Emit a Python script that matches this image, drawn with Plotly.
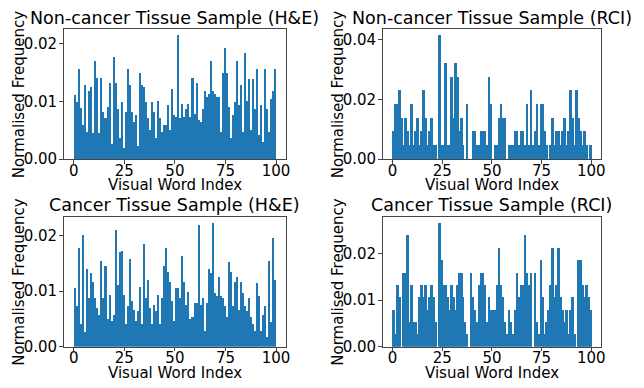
import plotly.graph_objects as go

# Visual word indices (histogram bins 0..99, each of width 1)
word_index = list(range(100))

noncancer_he = [
    0.0110, 0.0098, 0.0155, 0.0088, 0.0059, 0.0127, 0.0047, 0.0118, 0.0124, 0.0045,
    0.0170, 0.0140, 0.0045, 0.0140, 0.0081, 0.0070, 0.0090, 0.0132, 0.0025, 0.0177,
    0.0132, 0.0087, 0.0036, 0.0098, 0.0019, 0.0081, 0.0155, 0.0127, 0.0081, 0.0064,
    0.0076, 0.0022, 0.0149, 0.0127, 0.0124, 0.0098, 0.0070, 0.0050, 0.0098, 0.0081,
    0.0036, 0.0100, 0.0070, 0.0047, 0.0059, 0.0059, 0.0093, 0.0050, 0.0121, 0.0076,
    0.0073, 0.0214, 0.0070, 0.0095, 0.0073, 0.0087, 0.0095, 0.0073, 0.0140, 0.0078,
    0.0132, 0.0067, 0.0064, 0.0087, 0.0118, 0.0107, 0.0112, 0.0169, 0.0118, 0.0112,
    0.0107, 0.0107, 0.0047, 0.0149, 0.0192, 0.0149, 0.0090, 0.0036, 0.0076, 0.0098,
    0.0169, 0.0093, 0.0127, 0.0047, 0.0183, 0.0100, 0.0138, 0.0050, 0.0138, 0.0087,
    0.0155, 0.0042, 0.0093, 0.0030, 0.0155, 0.0087, 0.0047, 0.0104, 0.0118, 0.0155,
]

noncancer_rci = [
    0.0092, 0.0184, 0.0184, 0.0229, 0.0138, 0.0046, 0.0138, 0.0092, 0.0046, 0.0184,
    0.0046, 0.0092, 0.0138, 0.0046, 0.0092, 0.0229, 0.0138, 0.0046, 0.0092, 0.0138,
    0.0046, 0.0046, 0.0000, 0.0413, 0.0046, 0.0046, 0.0321, 0.0046, 0.0046, 0.0275,
    0.0138, 0.0321, 0.0275, 0.0092, 0.0138, 0.0046, 0.0000, 0.0184, 0.0000, 0.0000,
    0.0092, 0.0092, 0.0046, 0.0046, 0.0092, 0.0092, 0.0092, 0.0046, 0.0275, 0.0184,
    0.0000, 0.0046, 0.0046, 0.0138, 0.0184, 0.0138, 0.0138, 0.0000, 0.0046, 0.0046,
    0.0046, 0.0092, 0.0092, 0.0046, 0.0092, 0.0092, 0.0046, 0.0184, 0.0046, 0.0229,
    0.0046, 0.0092, 0.0184, 0.0046, 0.0184, 0.0184, 0.0092, 0.0046, 0.0000, 0.0046,
    0.0138, 0.0046, 0.0092, 0.0092, 0.0046, 0.0092, 0.0138, 0.0046, 0.0092, 0.0229,
    0.0138, 0.0046, 0.0229, 0.0138, 0.0092, 0.0046, 0.0092, 0.0046, 0.0000, 0.0046,
]

cancer_he = [
    0.0105, 0.0073, 0.0177, 0.0041, 0.0200, 0.0026, 0.0140, 0.0088, 0.0132, 0.0117,
    0.0088, 0.0070, 0.0058, 0.0155, 0.0088, 0.0146, 0.0050, 0.0094, 0.0047, 0.0058,
    0.0209, 0.0111, 0.0170, 0.0173, 0.0094, 0.0041, 0.0073, 0.0158, 0.0082, 0.0067,
    0.0047, 0.0064, 0.0108, 0.0041, 0.0184, 0.0088, 0.0120, 0.0070, 0.0041, 0.0076,
    0.0064, 0.0094, 0.0041, 0.0088, 0.0146, 0.0178, 0.0135, 0.0117, 0.0082, 0.0047,
    0.0105, 0.0105, 0.0088, 0.0164, 0.0117, 0.0076, 0.0099, 0.0050, 0.0053, 0.0079,
    0.0079, 0.0219, 0.0076, 0.0088, 0.0029, 0.0079, 0.0140, 0.0132, 0.0222, 0.0096,
    0.0091, 0.0126, 0.0091, 0.0088, 0.0073, 0.0053, 0.0152, 0.0135, 0.0073, 0.0117,
    0.0126, 0.0067, 0.0117, 0.0096, 0.0073, 0.0064, 0.0088, 0.0053, 0.0041, 0.0029,
    0.0114, 0.0091, 0.0029, 0.0058, 0.0073, 0.0018, 0.0155, 0.0044, 0.0196, 0.0120,
]

cancer_rci = [
    0.0080, 0.0027, 0.0133, 0.0106, 0.0000, 0.0159, 0.0159, 0.0239, 0.0053, 0.0133,
    0.0053, 0.0053, 0.0027, 0.0106, 0.0133, 0.0106, 0.0133, 0.0080, 0.0106, 0.0133,
    0.0106, 0.0053, 0.0000, 0.0265, 0.0186, 0.0133, 0.0133, 0.0106, 0.0080, 0.0133,
    0.0106, 0.0080, 0.0133, 0.0159, 0.0159, 0.0106, 0.0053, 0.0027, 0.0000, 0.0159,
    0.0106, 0.0080, 0.0053, 0.0133, 0.0159, 0.0159, 0.0133, 0.0053, 0.0106, 0.0080,
    0.0080, 0.0080, 0.0133, 0.0212, 0.0133, 0.0106, 0.0053, 0.0027, 0.0080, 0.0053,
    0.0027, 0.0080, 0.0159, 0.0106, 0.0133, 0.0133, 0.0239, 0.0159, 0.0133, 0.0159,
    0.0000, 0.0159, 0.0053, 0.0027, 0.0186, 0.0106, 0.0027, 0.0053, 0.0080, 0.0133,
    0.0212, 0.0106, 0.0133, 0.0212, 0.0106, 0.0080, 0.0053, 0.0080, 0.0027, 0.0080,
    0.0106, 0.0027, 0.0000, 0.0186, 0.0186, 0.0133, 0.0106, 0.0133, 0.0106, 0.0080,
]

panel_titles = [
    "Non-cancer Tissue Sample (H&E)",
    "Non-cancer Tissue Sample (RCI)",
    "Cancer Tissue Sample (H&E)",
    "Cancer Tissue Sample (RCI)",
]
x_title = "Visual Word Index"
y_title = "Normalised Frequency"
x_ticks = [0, 25, 50, 75, 100]

W, H = 644, 388
BAR = "#1f77b4"
FONT = "DejaVu Sans"
TITLE_SIZE = 17.5
LABEL_SIZE = 15
TICK_SIZE = 15

# pixel boxes of each axes frame: (left, right, top, bottom)
boxes = [
    (64, 288, 30, 163),
    (385, 605, 30, 163),
    (64, 288, 222, 355),
    (385, 605, 222, 355),
]
series = [noncancer_he, noncancer_rci, cancer_he, cancer_rci]
y_dticks = [0.01, 0.02, 0.01, 0.01]

fig = go.Figure()
layout = dict(
    width=W, height=H,
    margin=dict(l=0, r=0, t=0, b=0),
    paper_bgcolor="white", plot_bgcolor="white",
    showlegend=False, bargap=0,
    font=dict(family=FONT, color="black"),
    annotations=[],
)


def ann(text, px, py, size, angle=0):
    return dict(
        text=text, xref="paper", yref="paper", x=px / W, y=1 - py / H,
        xanchor="center", yanchor="middle", showarrow=False, textangle=angle,
        font=dict(family=FONT, size=size, color="black"),
    )


for k, (vals, title, box, dt) in enumerate(zip(series, panel_titles, boxes, y_dticks)):
    n = "" if k == 0 else str(k + 1)
    xa, ya = "x" + n, "y" + n
    fig.add_trace(go.Bar(
        x=[i + 0.5 for i in word_index], y=vals, width=1,
        marker=dict(color=BAR, line=dict(width=0)),
        xaxis=xa, yaxis=ya, hoverinfo="skip",
    ))
    l, r, t, b = box
    ymax = max(vals) * 1.05
    axis_common = dict(
        showgrid=False, zeroline=False, showline=True, mirror=True,
        linecolor="#444", linewidth=1,
        ticks="outside", ticklen=3.5, tickwidth=1, tickcolor="#444",
        tickfont=dict(family=FONT, size=TICK_SIZE, color="black"),
    )
    layout["xaxis" + n] = dict(
        axis_common, domain=[l / W, r / W], anchor=ya,
        range=[-5, 105], tickvals=x_ticks, ticklabelstandoff=-6,
    )
    layout["yaxis" + n] = dict(
        axis_common, domain=[1 - b / H, 1 - t / H], anchor=xa,
        range=[0, ymax], dtick=dt, tick0=0, tickformat=".2f",
        ticklabelstandoff=-1,
    )
    cx = (l + r) / 2
    layout["annotations"].append(ann(title, cx, t - 12, TITLE_SIZE))
    layout["annotations"].append(ann(x_title, cx, b + 26.5, LABEL_SIZE))
    layout["annotations"].append(ann(y_title, l - 45, (t + b) / 2, LABEL_SIZE, -90))

fig.update_layout(**layout)
fig.write_html("out.html")
